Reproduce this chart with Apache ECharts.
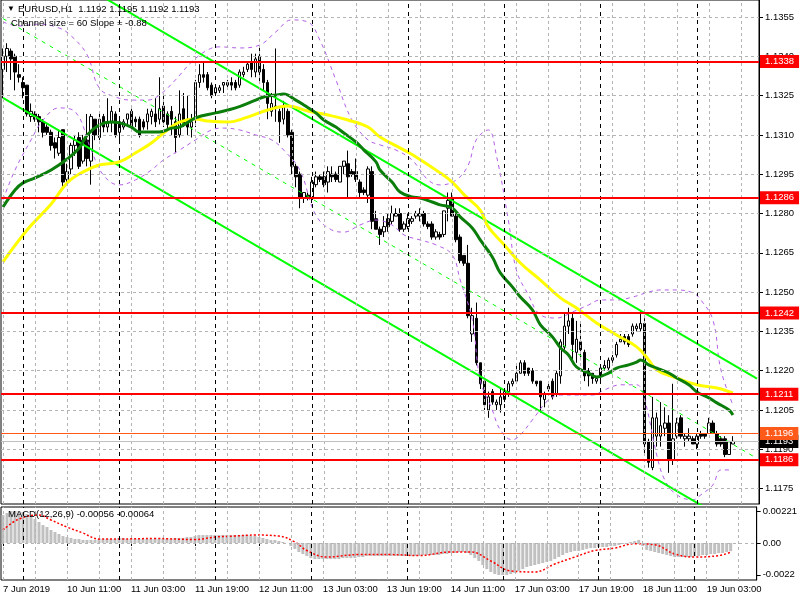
<!DOCTYPE html>
<html><head><meta charset="utf-8">
<script src="https://cdn.jsdelivr.net/npm/echarts@6/dist/echarts.min.js"></script>
<style>html,body{margin:0;padding:0;background:#fff}#c{width:800px;height:600px}</style>
</head><body><div id="c"></div><script>
// ---- price data (EURUSD H1), bar 0 = 7 Jun 2019 19:00 ----
const open = [1.1335,1.1340,1.1342,1.1340,1.1333,1.1330,1.1329,1.1317,1.1318,1.1317,
1.1315,1.1313,1.1311,1.1307,1.1303,1.1312,1.1293,1.1297,1.1306,1.1309,
1.1300,1.1308,1.1300,1.1316,1.1309,1.1317,1.1313,1.1315,1.1318,1.1311,
1.1313,1.1316,1.1319,1.1316,1.1316,1.1315,1.1315,1.1317,1.1318,1.1316,
1.1321,1.1318,1.1319,1.1315,1.1310,1.1320,1.1315,1.1313,1.1316,1.1330,
1.1333,1.1333,1.1329,1.1326,1.1327,1.1329,1.1329,1.1330,1.1330,1.1329,
1.1333,1.1335,1.1338,1.1334,1.1340,1.1335,1.1330,1.1319,1.1321,1.1319,
1.1316,1.1319,1.1311,1.1298,1.1295,1.1286,1.1287,1.1286,1.1291,1.1294,
1.1294,1.1292,1.1295,1.1295,1.1292,1.1298,1.1299,1.1296,1.1296,1.1292,
1.1289,1.1287,1.1296,1.1278,1.1274,1.1273,1.1278,1.1277,1.1279,1.1280,
1.1274,1.1275,1.1277,1.1279,1.1279,1.1280,1.1276,1.1276,1.1271,1.1272,
1.1272,1.1282,1.1286,1.1279,1.1271,1.1264,1.1261,1.1234,1.1240,1.1223,
1.1216,1.1205,1.1212,1.1207,1.1207,1.1209,1.1212,1.1215,1.1216,1.1219,
1.1223,1.1221,1.1220,1.1216,1.1216,1.1209,1.1213,1.1216,1.1211,1.1218,
1.1229,1.1237,1.1240,1.1227,1.1231,1.1227,1.1220,1.1219,1.1216,1.1218,
1.1221,1.1221,1.1224,1.1226,1.1231,1.1233,1.1233,1.1234,1.1236,1.1236,
1.1238,1.1193,1.1183,1.1195,1.1195,1.1198,1.1200,1.1186,1.1195,1.1202,
1.1194,1.1194,1.1194,1.1192,1.1196,1.1196,1.1196,1.1200,1.1196,1.1194,
1.1194,1.1188,1.1192];
const high = [1.1343,1.1345,1.1343,1.1341,1.1337,1.1332,1.1329,1.1322,1.1319,1.1318,
1.1316,1.1314,1.1312,1.1309,1.1312,1.1312,1.1299,1.1307,1.1310,1.1311,
1.1310,1.1318,1.1318,1.1316,1.1318,1.1318,1.1324,1.1321,1.1319,1.1316,
1.1316,1.1318,1.1320,1.1317,1.1317,1.1316,1.1320,1.1320,1.1324,1.1332,
1.1325,1.1319,1.1321,1.1317,1.1327,1.1326,1.1325,1.1318,1.1331,1.1337,
1.1338,1.1334,1.1330,1.1329,1.1329,1.1330,1.1331,1.1332,1.1331,1.1335,
1.1336,1.1338,1.1341,1.1341,1.1344,1.1337,1.1331,1.1326,1.1343,1.1320,
1.1323,1.1320,1.1312,1.1299,1.1296,1.1288,1.1288,1.1294,1.1296,1.1295,
1.1296,1.1298,1.1298,1.1296,1.1298,1.1300,1.1304,1.1297,1.1301,1.1293,
1.1290,1.1298,1.1298,1.1281,1.1275,1.1279,1.1280,1.1283,1.1282,1.1282,
1.1277,1.1280,1.1279,1.1281,1.1282,1.1281,1.1277,1.1277,1.1274,1.1273,
1.1281,1.1288,1.1288,1.1280,1.1272,1.1264,1.1268,1.1244,1.1246,1.1223,
1.1216,1.1212,1.1213,1.1209,1.1213,1.1213,1.1216,1.1217,1.1222,1.1224,
1.1224,1.1221,1.1221,1.1216,1.1216,1.1212,1.1215,1.1217,1.1220,1.1232,
1.1242,1.1244,1.1242,1.1239,1.1238,1.1228,1.1221,1.1219,1.1218,1.1222,
1.1224,1.1225,1.1226,1.1231,1.1234,1.1234,1.1234,1.1238,1.1238,1.1243,
1.1240,1.1194,1.1210,1.1204,1.1208,1.1206,1.1203,1.1215,1.1202,1.1203,
1.1196,1.1198,1.1195,1.1196,1.1197,1.1196,1.1202,1.1201,1.1197,1.1195,
1.1195,1.1193,1.1195];
const low = [1.1324,1.1334,1.1331,1.1327,1.1330,1.1324,1.1317,1.1315,1.1315,1.1311,
1.1309,1.1310,1.1304,1.1301,1.1302,1.1290,1.1291,1.1295,1.1302,1.1297,
1.1299,1.1298,1.1291,1.1308,1.1308,1.1311,1.1311,1.1311,1.1309,1.1308,
1.1312,1.1313,1.1312,1.1313,1.1309,1.1312,1.1312,1.1314,1.1313,1.1314,
1.1313,1.1312,1.1310,1.1303,1.1309,1.1313,1.1310,1.1309,1.1313,1.1328,
1.1330,1.1327,1.1324,1.1325,1.1326,1.1326,1.1328,1.1327,1.1327,1.1328,
1.1332,1.1334,1.1332,1.1332,1.1330,1.1327,1.1316,1.1317,1.1315,1.1307,
1.1314,1.1309,1.1295,1.1290,1.1282,1.1284,1.1285,1.1284,1.1290,1.1292,
1.1290,1.1288,1.1292,1.1292,1.1292,1.1295,1.1286,1.1294,1.1292,1.1286,
1.1287,1.1284,1.1274,1.1274,1.1268,1.1271,1.1273,1.1276,1.1279,1.1273,
1.1273,1.1274,1.1276,1.1278,1.1277,1.1275,1.1274,1.1270,1.1270,1.1270,
1.1271,1.1277,1.1279,1.1269,1.1261,1.1260,1.1240,1.1231,1.1222,1.1213,
1.1205,1.1202,1.1207,1.1205,1.1204,1.1208,1.1210,1.1214,1.1215,1.1219,
1.1218,1.1218,1.1215,1.1214,1.1204,1.1206,1.1212,1.1209,1.1210,1.1215,
1.1228,1.1234,1.1223,1.1223,1.1224,1.1216,1.1214,1.1215,1.1215,1.1216,
1.1220,1.1220,1.1223,1.1225,1.1231,1.1230,1.1229,1.1233,1.1235,1.1235,
1.1188,1.1183,1.1182,1.1191,1.1191,1.1195,1.1181,1.1184,1.1194,1.1194,
1.1191,1.1193,1.1192,1.1190,1.1194,1.1194,1.1196,1.1196,1.1191,1.1191,
1.1187,1.1188,1.1192];
const close = [1.1340,1.1343,1.1339,1.1334,1.1332,1.1328,1.1318,1.1319,1.1316,1.1315,
1.1311,1.1311,1.1306,1.1305,1.1309,1.1292,1.1296,1.1306,1.1308,1.1298,
1.1308,1.1301,1.1317,1.1310,1.1316,1.1313,1.1315,1.1319,1.1310,1.1315,
1.1315,1.1318,1.1313,1.1315,1.1310,1.1313,1.1318,1.1319,1.1315,1.1320,
1.1315,1.1314,1.1316,1.1309,1.1318,1.1314,1.1313,1.1315,1.1330,1.1333,
1.1332,1.1328,1.1325,1.1328,1.1328,1.1330,1.1330,1.1329,1.1328,1.1334,
1.1334,1.1337,1.1335,1.1339,1.1334,1.1330,1.1322,1.1322,1.1320,1.1315,
1.1321,1.1310,1.1298,1.1294,1.1286,1.1288,1.1286,1.1292,1.1294,1.1293,
1.1291,1.1296,1.1294,1.1293,1.1298,1.1300,1.1294,1.1295,1.1293,1.1288,
1.1288,1.1297,1.1277,1.1274,1.1272,1.1275,1.1275,1.1280,1.1280,1.1274,
1.1276,1.1278,1.1278,1.1280,1.1280,1.1276,1.1275,1.1271,1.1273,1.1271,
1.1281,1.1285,1.1279,1.1270,1.1262,1.1261,1.1241,1.1241,1.1223,1.1215,
1.1207,1.1210,1.1208,1.1208,1.1210,1.1212,1.1215,1.1216,1.1219,1.1223,
1.1219,1.1219,1.1216,1.1215,1.1210,1.1211,1.1214,1.1210,1.1219,1.1231,
1.1237,1.1239,1.1230,1.1232,1.1228,1.1218,1.1218,1.1217,1.1217,1.1221,
1.1222,1.1224,1.1225,1.1230,1.1232,1.1231,1.1230,1.1237,1.1237,1.1238,
1.1192,1.1185,1.1202,1.1202,1.1199,1.1200,1.1186,1.1194,1.1200,1.1195,
1.1195,1.1195,1.1192,1.1195,1.1195,1.1195,1.1200,1.1196,1.1192,1.1192,
1.1188,1.1193,1.1193];

// moving averages: [bar, price]
const maGreen = [[0,1.12825],[3,1.1289],[5,1.12917],[8,1.12936],[12,1.12966],[16,1.13008],[19,1.1305],[21,1.131],[24,1.13138],[27,1.13149],[29,1.13146],[32,1.1313],[34,1.13111],[39,1.13111],[42,1.13126],[44,1.1313],[48,1.13165],[53,1.13184],[58,1.13203],[63,1.13233],[65,1.13245],[68,1.13252],[70,1.13256],[73,1.13233],[75,1.13214],[78,1.13184],[80,1.13157],[83,1.1313],[85,1.13107],[88,1.13073],[90,1.13042],[93,1.12997],[94,1.12966],[97,1.1292],[99,1.12882],[102,1.12863],[104,1.12859],[107,1.12844],[109,1.12833],[112,1.12821],[114,1.12787],[117,1.12745],[119,1.12699],[122,1.12634],[124,1.12573],[127,1.1252],[129,1.12481],[132,1.12432],[134,1.12375],[137,1.12329],[139,1.12287],[141,1.1226],[143,1.12214],[146,1.12191],[148,1.12176],[151,1.12191],[153,1.1221],[156,1.12222],[158,1.12233],[159,1.12241],[161,1.12222],[163,1.1221],[166,1.12191],[168,1.12172],[171,1.12146],[173,1.12119],[176,1.12096],[178,1.12077],[181,1.1205],[182,1.12031]];
const maYellow = [[0,1.12615],[6,1.12737],[12,1.12836],[16,1.12917],[20,1.12959],[24,1.12985],[29,1.12997],[33,1.13031],[37,1.13069],[41,1.13119],[44,1.13149],[48,1.13161],[51,1.13153],[56,1.13149],[61,1.13168],[66,1.13195],[71,1.1321],[76,1.13191],[81,1.13176],[86,1.13157],[91,1.1313],[94,1.13092],[100,1.13042],[103,1.13016],[109,1.12955],[112,1.1292],[115,1.12871],[119,1.12813],[121,1.12749],[125,1.1268],[129,1.12611],[134,1.12546],[139,1.12478],[143,1.12439],[148,1.12382],[153,1.12336],[158,1.12291],[161,1.12241],[163,1.12203],[168,1.12172],[173,1.12146],[178,1.12134],[182,1.12115]];
// Bollinger bands
const bbUpper = [[0,1.13531],[4,1.13516],[9,1.13523],[14,1.13508],[17,1.13478],[21,1.13405],[24,1.13279],[28,1.13245],[32,1.13233],[36,1.13233],[39,1.13252],[43,1.1331],[47,1.13378],[51,1.13424],[54,1.13436],[59,1.13432],[64,1.13443],[68,1.13493],[72,1.13539],[76,1.13531],[79,1.13462],[83,1.1331],[87,1.13157],[91,1.13081],[94,1.13062],[98,1.13042],[102,1.13004],[106,1.12928],[109,1.12909],[113,1.12928],[116,1.12985],[118,1.13081],[121,1.13119],[123,1.13023],[126,1.12775],[128,1.12584],[131,1.12489],[134,1.12413],[138,1.12401],[142,1.12424],[146,1.12451],[149,1.1247],[153,1.1247],[157,1.12481],[161,1.125],[164,1.12508],[168,1.12508],[172,1.12497],[174,1.1247],[177,1.12394],[179,1.12203],[182,1.12069]];
const bbLower = [[0,1.12852],[3,1.12966],[7,1.13081],[10,1.13157],[14,1.13203],[18,1.13188],[22,1.13042],[25,1.12947],[29,1.12909],[33,1.12928],[37,1.12966],[40,1.13004],[44,1.13042],[48,1.13081],[52,1.13119],[55,1.13126],[59,1.13119],[63,1.131],[67,1.13081],[70,1.13042],[74,1.12966],[78,1.12794],[82,1.12737],[85,1.12729],[89,1.12756],[93,1.12775],[97,1.12756],[100,1.12718],[104,1.12699],[108,1.1268],[112,1.12642],[114,1.12546],[117,1.12394],[119,1.12165],[122,1.1205],[124,1.11974],[127,1.11936],[129,1.11955],[132,1.12012],[136,1.12088],[139,1.12107],[143,1.12107],[147,1.12107],[150,1.12127],[154,1.12146],[158,1.12146],[160,1.12088],[163,1.11878],[165,1.11783],[168,1.11726],[172,1.11707],[174,1.11726],[177,1.11764],[179,1.11821],[182,1.11821]];
// regression channel (upper, middle, lower) end points
const chanUpper = [[0,1.13849],[188,1.1217]];
const chanMid = [[0,1.13544],[188,1.11865]];
const chanLower = [[0,1.13241],[188,1.11562]];
// horizontal levels
const redLevels = [1.1338, 1.1286, 1.1242, 1.1211, 1.1186];
const orangeLevel = 1.1196;
const bidLevel = 1.1193;
const priceTicks = [1.1175,1.1190,1.1205,1.1220,1.1235,1.1250,1.1265,1.1280,1.1295,1.1310,1.1325,1.1340,1.1355];
// MACD
const macdHist = [0.00193,0.00207,0.00221,0.00221,0.00221,0.00214,0.00200,0.00187,0.00166,0.00145,
0.00124,0.00111,0.0009,0.00076,0.00062,0.00048,0.00041,0.00035,0.00028,0.00028,
0.00021,0.00021,0.00021,0.00021,0.00028,0.00028,0.00028,0.00028,0.00028,0.00035,
0.00035,0.00028,0.00028,0.00028,0.00028,0.00028,0.00028,0.00028,0.00028,0.00028,
0.00028,0.00028,0.00028,0.00035,0.00035,0.00035,0.00041,0.00041,
0.00048,0.00055,0.00055,0.00055,0.00055,0.00055,0.00055,0.00055,0.00055,0.00055,0.00055,0.00055,0.00055,0.00055,0.00048,0.00048,0.00041,0.00035,
0.00028,0.00021,0.00021,0.00014,0.00007,0,
-0.00021,-0.00041,-0.00062,-0.00076,-0.0009,-0.00104,-0.00111,-0.00111,
-0.00111,-0.00111,-0.00111,-0.00111,-0.00111,-0.00104,-0.00104,-0.00104,-0.00104,
-0.00097,-0.00097,-0.0009,-0.0009,-0.0009,-0.0009,-0.0009,-0.0009,-0.0009,-0.0009,-0.0009,-0.0009,-0.0009,-0.0009,-0.0009,-0.00083,-0.00083,-0.00083,-0.00083,-0.00083,-0.00083,-0.00076,-0.00076,
-0.00069,-0.00069,-0.00062,-0.00062,-0.00069,-0.00083,
-0.00104,-0.00124,-0.00152,-0.0018,-0.002,-0.00214,-0.00221,-0.00221,-0.00221,-0.00214,-0.00207,-0.00193,-0.0018,-0.00166,-0.00159,-0.00152,-0.00145,-0.00138,-0.00131,-0.00124,-0.00111,-0.00097,-0.00083,-0.00069,-0.00062,-0.00055,-0.00055,-0.00048,-0.00041,-0.00035,-0.00035,-0.00028,-0.00028,-0.00028,-0.00021,-0.00021,-0.00014,-0.00007,0,0.00007,0.00014,0.00021,
-0.00021,-0.00048,-0.00055,-0.00062,-0.00069,-0.00076,-0.00083,-0.0009,-0.00097,-0.00097,-0.00097,-0.00097,-0.00097,-0.0009,-0.0009,-0.00083,-0.00083,-0.00076,-0.00076,-0.00069,-0.00069,-0.00062,-0.00056];
const macdSignal = [[0,0.0009],[4,0.00166],[9,0.00193],[12,0.00159],[16,0.0011],[20,0.00069],[24,0.00028],[29,0.00028],[38,0.00031],[48,0.00024],[53,0.00041],[58,0.00048],[63,0.00055],[69,0.00048],[73,0.00007],[76,-0.00052],[81,-0.00097],[89,-0.0008],[97,-0.0008],[104,-0.00087],[112,-0.00062],[117,-0.00062],[122,-0.00124],[127,-0.00193],[133,-0.002],[138,-0.00145],[143,-0.00097],[148,-0.00052],[153,-0.00035],[158,-0.00005],[163,-0.00012],[168,-0.00076],[173,-0.00097],[179,-0.00087],[182,-0.00064]];
const macdTicks = [0.00221, 0, -0.0022];
const macdTickLabels = ['0.00221', '0.00', '-0.0022'];
// time axis labels
const tickIndex = [0,16,32,48,64,80,96,112,128,144,160,176];
const tickLabels = ['7 Jun 2019','10 Jun 11:00','11 Jun 03:00','11 Jun 19:00','12 Jun 11:00','13 Jun 03:00','13 Jun 19:00','14 Jun 11:00','17 Jun 03:00','17 Jun 19:00','18 Jun 11:00','19 Jun 03:00'];
const daySeparators = [5,29,53,77,101,125,149,173];

const SLOTS = 189;
const FONT = "'Liberation Sans', Arial, sans-serif";
const FS = 9.5;
const GRIDC = '#b4b4b4';
const cats = Array.from({length: SLOTS}, (_, i) => String(i));
const candles = open.map((o, i) => [o, close[i], low[i], high[i]]);
const gridEvery = [];
for (let i = 0; i < SLOTS; i += 8) gridEvery.push(i);

function vLines() {
  const d = gridEvery.filter(i => !daySeparators.includes(i)).map(i => ({xAxis: i, lineStyle: {color: GRIDC, type: [3, 3], width: 1}}));
  daySeparators.forEach(i => d.push({xAxis: i, lineStyle: {color: '#000', type: [4, 4], width: 1}}));
  return d;
}
function lvl(v, color, width, bg) {
  return {yAxis: v, lineStyle: {color: color, width: width, type: 'solid'},
    label: {show: true, position: 'end', distance: 1, formatter: v.toFixed(4), color: '#fff',
      backgroundColor: bg, padding: [2, 5, 1, 5], fontSize: FS, fontFamily: FONT}};
}

const chart = echarts.init(document.getElementById('c'), null, {renderer: 'canvas'});
chart.setOption({
  animation: false,
  backgroundColor: '#fff',
  grid: [
    {left: 1, top: 0, width: 758, height: 504, show: true, borderColor: '#000', borderWidth: 1, backgroundColor: '#fff'},
    {left: 1, top: 507, width: 758, height: 73, show: true, borderColor: '#000', borderWidth: 1, backgroundColor: '#fff'}
  ],
  xAxis: [
    {type: 'category', gridIndex: 0, data: cats, boundaryGap: true, axisLine: {show: false}, axisTick: {show: false}, axisLabel: {show: false}, splitLine: {show: false}},
    {type: 'category', gridIndex: 1, data: cats, boundaryGap: true, axisLine: {show: false},
      axisTick: {show: true, alignWithLabel: true, length: 3, interval: (i) => tickIndex.includes(i), lineStyle: {color: '#000'}},
      axisLabel: {show: true, interval: (i) => tickIndex.includes(i), formatter: (v, i) => tickLabels[tickIndex.indexOf(Number(v))] || '',
        align: 'left', margin: 4, fontSize: FS, color: '#000', fontFamily: FONT},
      splitLine: {show: false}}
  ],
  yAxis: [
    {type: 'value', gridIndex: 0, position: 'right', min: 1.11691, max: 1.13615,
      axisLine: {show: true, lineStyle: {color: '#000'}},
      axisTick: {show: true, customValues: priceTicks, length: 4, lineStyle: {color: '#000'}},
      axisLabel: {show: true, customValues: priceTicks, formatter: (v) => v.toFixed(4), margin: 6, fontSize: FS, color: '#000', fontFamily: FONT},
      splitLine: {show: false}},
    {type: 'value', gridIndex: 1, position: 'right', min: -0.002555, max: 0.002486,
      axisLine: {show: true, lineStyle: {color: '#000'}},
      axisTick: {show: true, customValues: macdTicks, length: 4, lineStyle: {color: '#000'}},
      axisLabel: {show: true, customValues: macdTicks, margin: 6, fontSize: FS, color: '#000', fontFamily: FONT,
        formatter: (v) => { const k = macdTicks.findIndex(t => Math.abs(t - v) < 1e-9); return k >= 0 ? macdTickLabels[k] : ''; }},
      splitLine: {show: false}}
  ],
  graphic: [
    {type: 'text', z: 100, left: 7, top: 5, style: {text: '\u25BC', fontSize: 8, fill: '#000', fontFamily: FONT}},
    {type: 'text', z: 100, left: 18, top: 4, style: {text: 'EURUSD,H1  1.1192 1.1195 1.1192 1.1193', fontSize: 9.5, fill: '#000', fontFamily: FONT}},
    {type: 'text', z: 100, left: 11, top: 18, style: {text: 'Channel size = 60 Slope = -0.88', fontSize: 9.5, fill: '#000', fontFamily: FONT}},
    {type: 'text', z: 100, left: 8, top: 509, style: {text: 'MACD(12,26,9) -0.00056 -0.00064', fontSize: 9.5, fill: '#000', fontFamily: FONT}}
  ],
  series: [
    {type: 'line', xAxisIndex: 0, yAxisIndex: 0, data: [], z: 1, silent: true,
      markLine: {silent: true, precision: 6, symbol: ['none', 'none'], label: {show: false}, animation: false,
        data: vLines().concat(priceTicks.map(v => ({yAxis: v, lineStyle: {color: GRIDC, type: [3, 3], width: 1}})))}},
    {type: 'line', xAxisIndex: 1, yAxisIndex: 1, data: [], z: 1, silent: true,
      markLine: {silent: true, precision: 6, symbol: ['none', 'none'], label: {show: false}, animation: false,
        data: vLines().concat([{yAxis: 0, lineStyle: {color: GRIDC, type: [3, 3], width: 1}}])}},
    {type: 'candlestick', xAxisIndex: 0, yAxisIndex: 0, data: candles, barWidth: 3, z: 2,
      itemStyle: {color: '#fff', color0: '#000', borderColor: '#000', borderColor0: '#000', borderWidth: 1}},
    {type: 'line', xAxisIndex: 0, yAxisIndex: 0, data: bbUpper, smooth: 0.4, symbol: 'none', z: 3, lineStyle: {color: '#b45ee6', width: 1, type: [4, 4]}},
    {type: 'line', xAxisIndex: 0, yAxisIndex: 0, data: bbLower, smooth: 0.4, symbol: 'none', z: 3, lineStyle: {color: '#b45ee6', width: 1, type: [4, 4]}},
    {type: 'line', xAxisIndex: 0, yAxisIndex: 0, data: chanMid, symbol: 'none', z: 3, lineStyle: {color: '#00ff00', width: 1, type: [4, 5]}},
    {type: 'line', xAxisIndex: 0, yAxisIndex: 0, data: chanUpper, symbol: 'none', z: 4, lineStyle: {color: '#00ff00', width: 2}},
    {type: 'line', xAxisIndex: 0, yAxisIndex: 0, data: chanLower, symbol: 'none', z: 4, lineStyle: {color: '#00ff00', width: 2}},
    {type: 'line', xAxisIndex: 0, yAxisIndex: 0, data: maYellow, smooth: 0.4, symbol: 'none', z: 4, lineStyle: {color: '#ffff00', width: 3}},
    {type: 'line', xAxisIndex: 0, yAxisIndex: 0, data: maGreen, smooth: 0.4, symbol: 'none', z: 4, lineStyle: {color: '#0b7d0b', width: 3}},
    {type: 'line', xAxisIndex: 0, yAxisIndex: 0, data: [], z: 5, silent: true,
      markLine: {silent: true, precision: 6, symbol: ['none', 'none'], animation: false,
        data: [lvl(bidLevel, '#c0c0c0', 1, '#000'), lvl(orangeLevel, '#ff5a1a', 1, '#ff5a1a')].concat(redLevels.map(v => lvl(v, '#ff0000', 2, '#ff0000')))}},
    {type: 'bar', xAxisIndex: 1, yAxisIndex: 1, data: macdHist, barWidth: 3, z: 2, itemStyle: {color: '#c0c0c0'}},
    {type: 'line', xAxisIndex: 1, yAxisIndex: 1, data: macdSignal, smooth: 0.4, symbol: 'none', z: 3, lineStyle: {color: '#ff0000', width: 1.5, type: [2, 2]}}
  ]
});
if (open.length !== 183 || high.length !== 183 || low.length !== 183 || close.length !== 183 || macdHist.length !== 183) {
  throw new Error('length mismatch ' + [open.length, high.length, low.length, close.length, macdHist.length].join(','));
}
</script></body></html>
